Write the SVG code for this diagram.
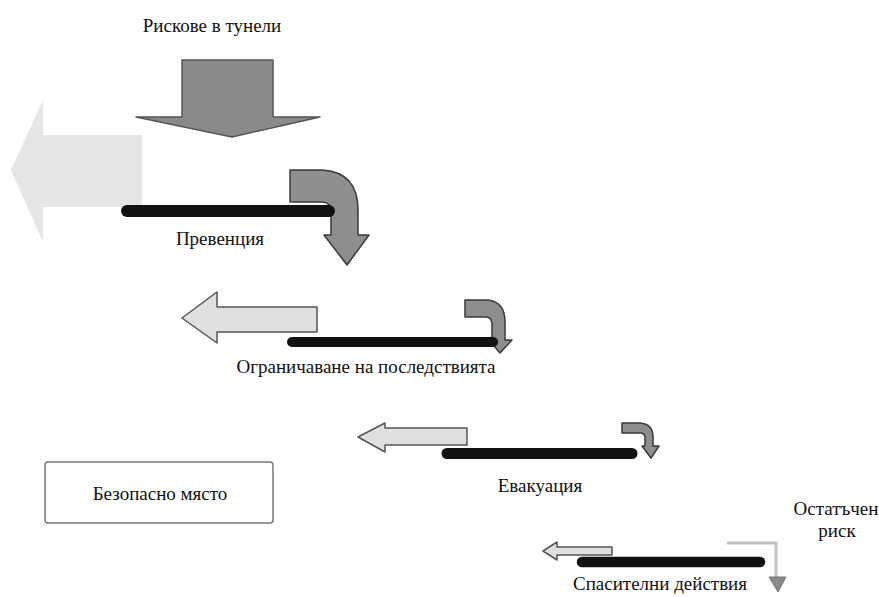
<svg xmlns="http://www.w3.org/2000/svg" width="879" height="597" viewBox="0 0 879 597">
<style>
.t{font-family:"Liberation Serif","DejaVu Serif",serif;font-size:19px;fill:#111;text-anchor:middle}
.bar{stroke:#111;stroke-linecap:round;fill:none}
.hook{fill:#8e8e8e;stroke:#3a3a3a;stroke-width:1.5;stroke-linejoin:round}
.pale{fill:#e0e0e0;stroke:#555;stroke-width:1.5;stroke-linejoin:round}
</style>
<rect width="879" height="597" fill="#fff"/>
<g id="risks">
<text class="t" x="212" y="32">Рискове в тунели</text>
<polygon points="182,60 273,60 273,117 320,117 232,137 136,117 182,117" fill="#8a8a8a" stroke="#555" stroke-width="1.5" stroke-linejoin="round"/>
</g>
<g id="prevention">
<polygon points="11,170 43,100 43,135 142,135 142,207 43,207 43,242" fill="#e6e6e6"/>
<path class="hook" d="M290,170 L322,170 Q358,172 358,210 L358,235 L369,235 L347,265 L324,235 L331,235 L331,212 Q331,202 322,202 L290,202 Z"/>
<line class="bar" x1="127" y1="211" x2="329" y2="211" stroke-width="12"/>
<text class="t" x="220" y="245">Превенция</text>
</g>
<g id="mitigation">
<polygon class="pale" points="182,318 217,292 217,307 317,307 317,332 217,332 217,343"/>
<path class="hook" d="M465,300 L488,300 Q505,302 505,322 L505,340 L512,340 L500,353 L489,340 L492,340 L492,325 Q492,317 486,317 L465,317 Z"/>
<line class="bar" x1="292" y1="342" x2="493" y2="342" stroke-width="10"/>
<text class="t" x="366" y="373">Ограничаване на последствията</text>
</g>
<g id="evacuation">
<polygon class="pale" points="358,437 385,423 385,428 467,428 467,445 385,445 385,452"/>
<path class="hook" d="M622,423 L640,423 Q653,424 653,437 L653,446 L659,446 L651,458 L642,446 L645,446 L645,438 Q645,433 640,433 L622,433 Z"/>
<line class="bar" x1="447" y1="453.5" x2="632" y2="453.5" stroke-width="11"/>
<text class="t" x="540" y="492">Евакуация</text>
</g>
<g id="rescue">
<polygon class="pale" points="543,551 557,542 557,547 612,547 612,555 557,555 557,560"/>
<line class="bar" x1="582" y1="562" x2="760" y2="562" stroke-width="10.5"/>
<text class="t" x="660" y="590">Спасителни действия</text>
</g>
<g id="residual">
<polyline points="727,543 776,543 776,578" fill="none" stroke="#c4c4c4" stroke-width="3"/>
<polygon points="769,577 786,577 778,592" fill="#8a8a8a" stroke="#777" stroke-width="1"/>
<text class="t" x="836" y="515">Остатъчен</text>
<text class="t" x="837" y="537">риск</text>
</g>
<g id="safe-place">
<rect x="45" y="462" width="228" height="61" rx="3" fill="#fff" stroke="#777" stroke-width="1.5"/>
<text class="t" x="160" y="500">Безопасно място</text>
</g>
</svg>
